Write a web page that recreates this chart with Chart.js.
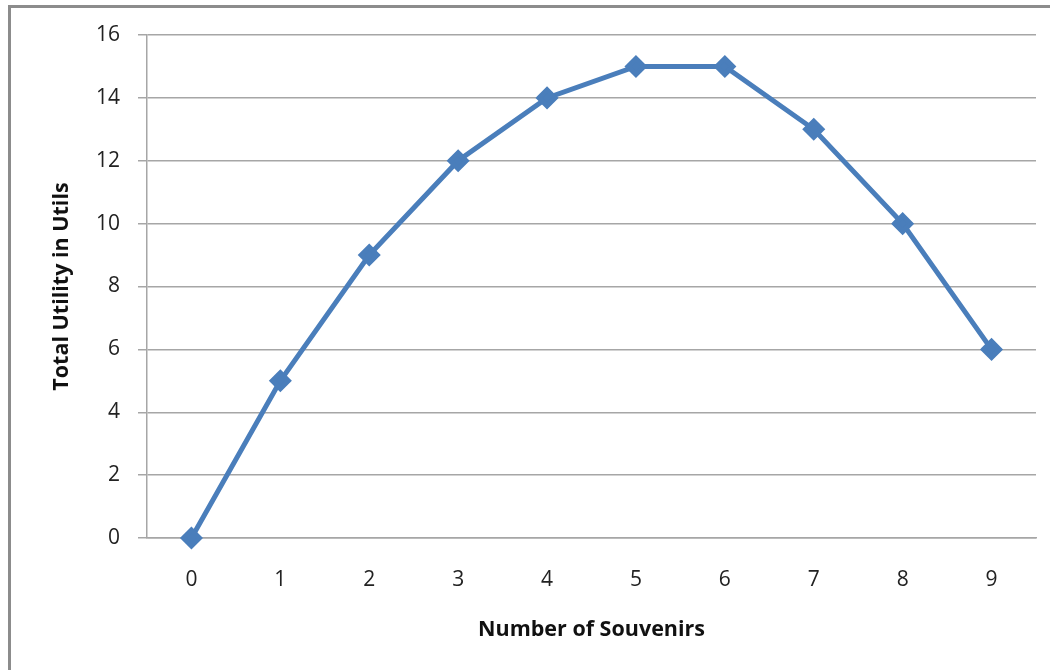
<!DOCTYPE html>
<html>
<head>
<meta charset="utf-8">
<script src="https://cdn.jsdelivr.net/npm/chart.js@4"></script>
<style>
  html, body { margin: 0; padding: 0; background: #fff; overflow: hidden; }
  #frame { position: absolute; left: 8px; top: 5px; width: 1100px; height: 700px;
           border-top: 3px solid #8c8c8c; border-left: 3px solid #8c8c8c; }
  #myChart { position: absolute; left: 0; top: 0; }
</style>
</head>
<body>
<div id="frame"></div>
<canvas id="myChart" width="1050" height="670"></canvas>
<script>
// number of souvenirs and the total utility
const souvenirs = ['0', '1', '2', '3', '4', '5', '6', '7', '8', '9'];
const totalUtility = [0, 5, 9, 12, 14, 15, 15, 13, 10, 6];
const yTicks = [0, 2, 4, 6, 8, 10, 12, 14, 16];

const gridGray = '#a6a6a6';
const lineBlue = '#4a7ebb';

const ctx = document.getElementById('myChart').getContext('2d');
const config = {
    type: 'line',
    data: {
        labels: souvenirs,
        datasets: [{
            label: 'Total Utility',
            data: totalUtility,
            borderColor: lineBlue,
            backgroundColor: lineBlue,
            borderWidth: 5,
            pointStyle: 'rectRot',
            pointRadius: 8,
            pointHoverRadius: 8,
            tension: 0,
            fill: false,
            clip: false
        }]
    },
    options: {
        responsive: false,
        animation: false,
        layout: { padding: { top: 35, right: 14, left: 0, bottom: 0 } },
        plugins: { legend: { display: false }, tooltip: { enabled: false } },
        scales: {
            x: {
                offset: true,
                grid: { display: false, drawTicks: false },
                border: { display: true, color: gridGray, width: 1.5 },
                ticks: { color: '#222', padding: 29, font: { family: 'Open Sans', size: 21 } },
                title: {
                    display: true,
                    text: 'Number of Souvenirs',
                    color: '#111',
                    padding: { top: 0, bottom: 27 },
                    font: { family: 'Open Sans', size: 21.5, weight: 'bold' }
                },
                afterFit: function (scale) { scale.height = 132; }
            },
            y: {
                min: 0,
                max: 16,
                afterBuildTicks: function (scale) {
                    scale.ticks = yTicks.map(function (v) { return { value: v }; });
                },
                grid: { color: gridGray, lineWidth: 1.5, tickLength: 9 },
                border: { display: true, color: gridGray, width: 1.5 },
                ticks: { color: '#222', padding: 18, font: { family: 'Open Sans', size: 21 } },
                title: {
                    display: true,
                    text: 'Total Utility in Utils',
                    color: '#111',
                    padding: { top: 49, bottom: 0 },
                    font: { family: 'Open Sans', size: 21.5, weight: 'bold' }
                },
                afterFit: function (scale) { scale.width = 147; }
            }
        }
    }
};
const myChart = new Chart(ctx, config);
</script>
</body>
</html>
